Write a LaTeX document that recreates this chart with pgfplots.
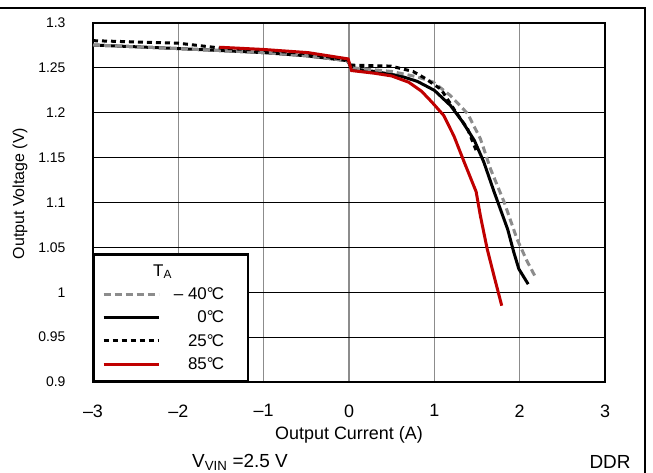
\documentclass[border=0pt]{standalone}
\usepackage{fontspec}
\setmainfont{Liberation Sans}
\usepackage{pgfplots}
\pgfplotsset{compat=1.18}

\definecolor{coldgray}{RGB}{140,140,140}
\definecolor{hotred}{RGB}{192,0,0}

\begin{document}
\begin{tikzpicture}
\begin{axis}[
  at={(0,0)}, anchor=south west,
  scale only axis, width=512bp, height=359bp,
  xmin=-3, xmax=3, ymin=0.9, ymax=1.3,
  xtick={-3,-2,-1,0,1,2,3},
  xticklabels={–3,–2,–1,0,1,2,3},
  ytick={0.9,0.95,1,1.05,1.1,1.15,1.2,1.25,1.3},
  yticklabels={0.9,0.95,1,1.05,1.1,1.15,1.2,1.25,1.3},
  grid=major,
  x grid style={gray!90, line width=1.3bp},
  y grid style={black, line width=0.9bp},
  axis line style={line width=2.4bp},
  tick style={draw=none},
  xticklabel style={font=\fontsize{18}{20}\selectfont, yshift=-19bp},
  yticklabel style={font=\fontsize{14}{16}\selectfont, xshift=-24bp},
  xlabel={Output Current (A)}, ylabel={Output Voltage (V)},
  xlabel style={font=\fontsize{18}{20}\selectfont,
    at={(axis description cs:0.5,-0.148)}, anchor=center},
  ylabel style={font=\fontsize{16}{18}\selectfont,
    at={(axis description cs:-0.1426,0.525)}, anchor=center},
  legend image code/.code={\draw[#1] (0bp,0bp) -- (55bp,0bp);},
  legend style={at={(0,0)}, anchor=south west, draw=black, line width=2.4bp,
    fill=white, font=\fontsize{17}{19}\selectfont, row sep=6bp,
    inner xsep=8bp, inner ysep=8bp},
  legend cell align=right,
]
% legend entries first (plots below are forget plot)
\addlegendimage{empty legend}
\addlegendentry{\makebox[76bp][l]{\hspace*{-9bp}T\textsubscript{A}}}
\addlegendimage{coldgray, line width=3bp, dash pattern=on 7bp off 4bp}
\addlegendentry{\makebox[76bp][r]{– 40°\kern-0.1em C\hspace*{14bp}}}
\addlegendimage{black, line width=3bp}
\addlegendentry{\makebox[76bp][r]{0°\kern-0.1em C\hspace*{14bp}}}
\addlegendimage{black, line width=3bp, dash pattern=on 5bp off 4bp}
\addlegendentry{\makebox[76bp][r]{25°\kern-0.1em C\hspace*{14bp}}}
\addlegendimage{hotred, line width=3bp}
\addlegendentry{\makebox[76bp][r]{85°\kern-0.1em C\hspace*{14bp}}}

% 0 C
\addplot[forget plot, black, line width=3bp] coordinates {
  (-3,1.2755) (-2,1.2715) (-1,1.267) (-0.5,1.2635) (-0.02,1.258)
  (0.04,1.249) (0.3,1.246) (0.6,1.241) (0.8,1.235) (1.0,1.225)
  (1.19,1.208) (1.33,1.190) (1.47,1.169) (1.58,1.145) (1.70,1.112)
  (1.86,1.070) (1.93,1.045) (1.99,1.026) (2.10,1.009)
};
% -40 C
\addplot[forget plot, coldgray, line width=3bp, dash pattern=on 7bp off 4bp] coordinates {
  (-3,1.2755) (-2,1.2715) (-1,1.267) (-0.5,1.2635) (-0.02,1.258)
  (0.05,1.250) (0.5,1.246) (0.8,1.240) (0.99,1.234) (1.19,1.219)
  (1.39,1.199) (1.54,1.171) (1.66,1.137) (1.82,1.100) (1.97,1.059)
  (2.09,1.034) (2.19,1.016)
};
% 25 C
\addplot[forget plot, black, line width=3bp, dash pattern=on 5bp off 4bp] coordinates {
  (-3,1.2803) (-2,1.2775) (-1.5,1.272) (-1,1.2695) (-0.5,1.266)
  (-0.02,1.259) (0.03,1.253) (0.49,1.252) (0.75,1.246) (0.88,1.239)
  (1.08,1.226) (1.23,1.204) (1.39,1.182) (1.49,1.158)
};
% 85 C
\addplot[forget plot, hotred, line width=3bp] coordinates {
  (-1.52,1.273) (-1,1.2705) (-0.48,1.267) (-0.01,1.260) (0.03,1.247)
  (0.3,1.244) (0.5,1.241) (0.7,1.234) (0.85,1.224) (0.97,1.212)
  (1.11,1.197) (1.23,1.174) (1.35,1.145) (1.49,1.112) (1.54,1.085)
  (1.62,1.048) (1.70,1.018) (1.79,0.985)
};
\end{axis}
\node[font=\fontsize{19}{21}\selectfont] at (147bp,-80bp) {V\textsubscript{VIN} =2.5 V};
\node[font=\fontsize{19}{21}\selectfont] at (517bp,-80bp) {DDR};
\draw[line width=1.3bp] (-93bp,374bp) -- (552bp,374bp) -- (552bp,-91bp);
\pgfresetboundingbox
\useasboundingbox (-93bp,-91bp) rectangle (560bp,382bp);
\end{tikzpicture}
\end{document}
